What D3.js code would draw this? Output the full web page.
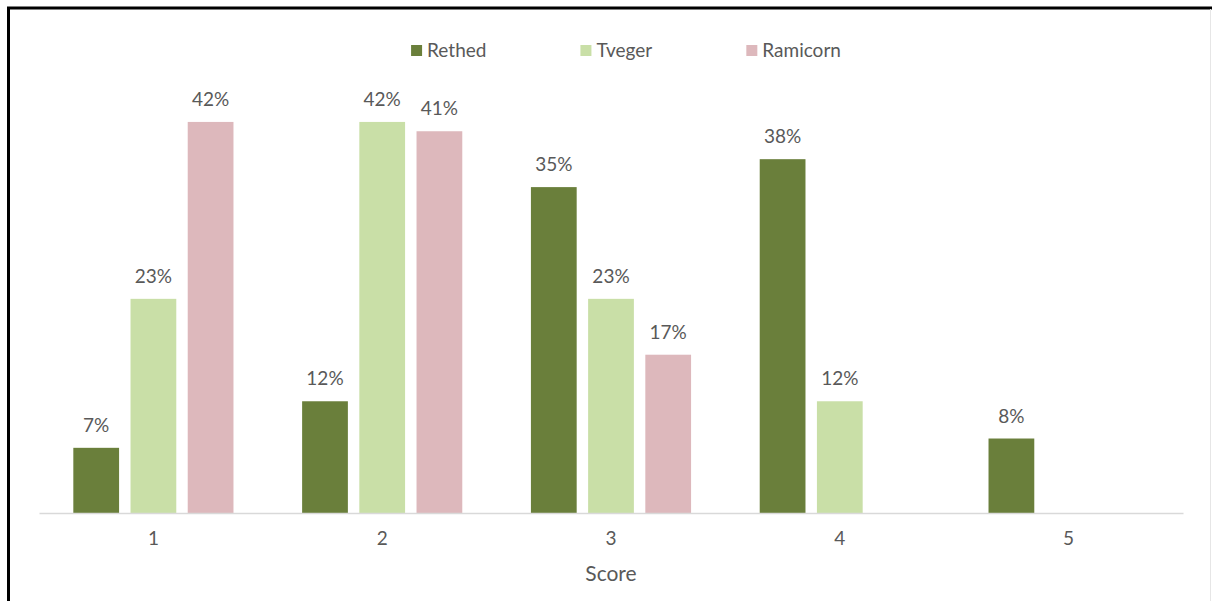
<!DOCTYPE html>
<html>
<head>
<meta charset="utf-8">
<script src="https://cdn.jsdelivr.net/npm/d3@7/dist/d3.min.js"></script>
<style>
  html, body { margin: 0; padding: 0; background: #ffffff; }
  svg { display: block; }
  text { font-family: Lato, "Open Sans", sans-serif; fill: #595959; }
</style>
</head>
<body>
<svg id="chart" width="1212" height="601"></svg>
<script>
// Score distribution per group, in percent (null = no response recorded)
const scores   = ["1", "2", "3", "4", "5"];
const series   = ["Rethed", "Tveger", "Ramicorn"];
const rethed   = [7, 12, 35, 38, 8];
const tveger   = [23, 42, 23, 12, null];
const ramicorn = [42, 41, 17, null, null];
const colors   = ["#6a7f3b", "#c9dfa7", "#ddb8bc"];
const axisTitle = "Score";

const values = [rethed, tveger, ramicorn];
const W = 1212, H = 601;
const margin = { left: 39, right: 29, top: 94, bottom: 88 };

const svg = d3.select("#chart");

// frame
svg.append("rect").attr("width", W).attr("height", H).attr("fill", "#fff");
svg.append("line").attr("x1", 8.5).attr("x2", 8.5).attr("y1", 7).attr("y2", H)
  .attr("stroke", "#000").attr("stroke-width", 3);
svg.append("line").attr("x1", 7).attr("x2", W).attr("y1", 8).attr("y2", 8)
  .attr("stroke", "#000").attr("stroke-width", 3);
svg.append("line").attr("x1", W - 1.5).attr("x2", W - 1.5).attr("y1", 9).attr("y2", H)
  .attr("stroke", "#e6e6e6").attr("stroke-width", 1);

const x0 = d3.scaleBand()
  .domain(scores)
  .range([margin.left, W - margin.right])
  .paddingInner(0).paddingOuter(0);

const groupW = x0.bandwidth() * 0.70;
const x1 = d3.scaleBand()
  .domain(series)
  .range([0, groupW])
  .paddingInner(0.2).paddingOuter(0);

const y = d3.scaleLinear()
  .domain([0, 45])
  .range([H - margin.bottom, margin.top]);

const baseY = y(0);

// bars
const groups = svg.append("g").selectAll("g")
  .data(scores)
  .join("g")
  .attr("transform", d => `translate(${x0(d) + (x0.bandwidth() - groupW) / 2},0)`);

const cells = groups.selectAll("g.cell")
  .data((d, i) => series.map((s, k) => ({ s, k, v: values[k][i] })).filter(c => c.v != null))
  .join("g").attr("class", "cell");

cells.append("rect")
  .attr("x", c => x1(c.s))
  .attr("width", x1.bandwidth())
  .attr("y", c => y(c.v))
  .attr("height", c => baseY - y(c.v))
  .attr("fill", c => colors[c.k]);

cells.append("text")
  .attr("x", c => x1(c.s) + x1.bandwidth() / 2)
  .attr("y", c => y(c.v) - 16)
  .attr("text-anchor", "middle")
  .attr("font-size", 19)
  .text(c => c.v + "%");

// x axis
const xAxis = svg.append("g")
  .attr("transform", `translate(0,${baseY})`)
  .call(d3.axisBottom(x0).tickSize(0).tickPadding(19));
xAxis.select(".domain").attr("stroke", "#d9d9d9").attr("stroke-width", 1.5);
xAxis.selectAll(".tick text")
  .attr("font-size", 19)
  .attr("font-family", "Lato, 'Open Sans', sans-serif")
  .attr("fill", "#595959");

svg.append("text")
  .attr("x", (margin.left + W - margin.right) / 2)
  .attr("y", 581)
  .attr("text-anchor", "middle")
  .attr("font-size", 21)
  .text(axisTitle);

// legend
const legend = svg.append("g");
const items = legend.selectAll("g")
  .data(series)
  .join("g");
items.append("rect")
  .attr("width", 11).attr("height", 11)
  .attr("y", 45)
  .attr("fill", (d, i) => colors[i]);
items.append("text")
  .attr("x", 16)
  .attr("y", 57)
  .attr("font-size", 19)
  .text(d => d);

const widths = [];
items.each(function () { widths.push(this.getBBox().width); });
const gap = 94;
const total = d3.sum(widths) + gap * (widths.length - 1);
let start = 626 - total / 2;
items.attr("transform", (d, i) => {
  const t = `translate(${start},0)`;
  start += widths[i] + gap;
  return t;
});
</script>
</body>
</html>
